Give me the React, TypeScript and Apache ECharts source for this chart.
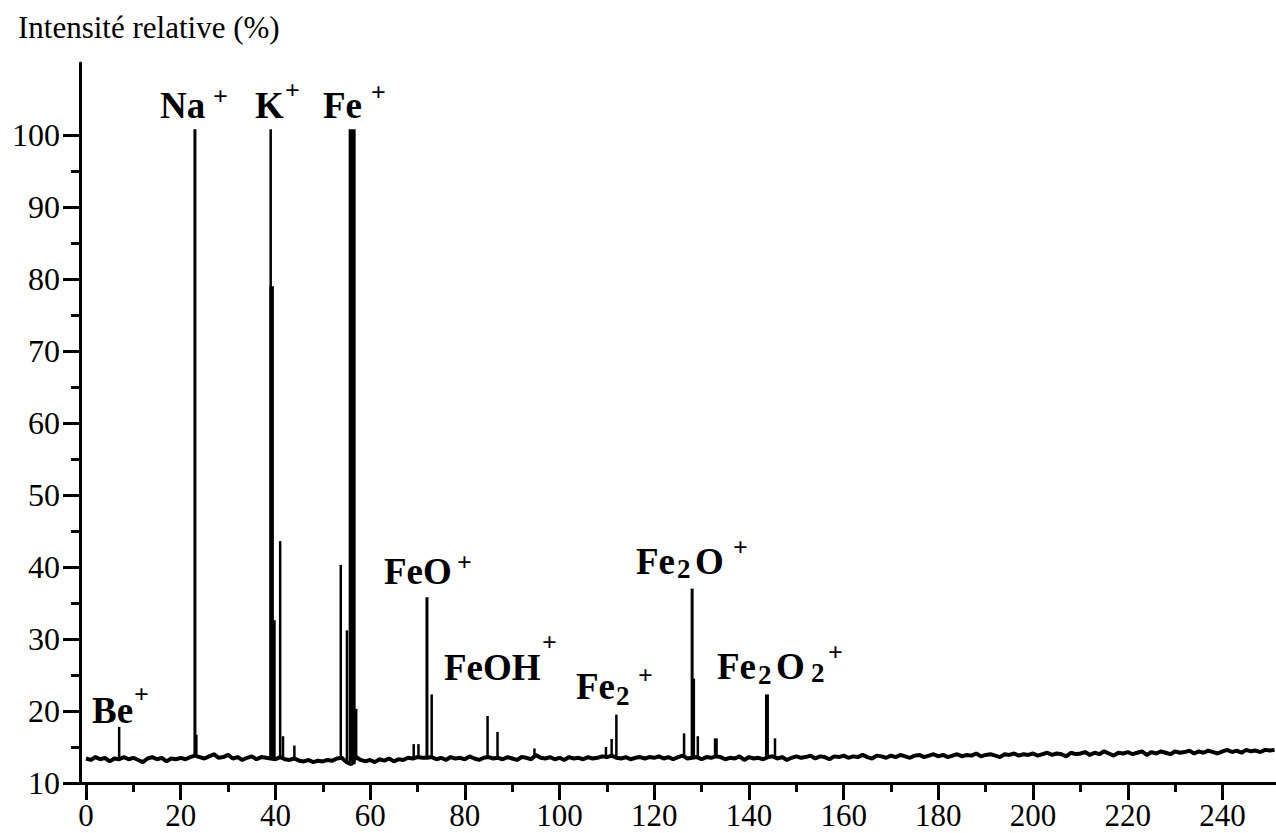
import React, { useEffect, useRef } from 'react';
import * as echarts from 'echarts';

// Baseline intensity (%) at each integer m/z from 0 to 251
const baselineValues = [
  13.4, 13.2, 13.6, 13.3, 13.5, 13.0, 13.4, 13.3, 13.6, 13.3,
  13.5, 13.2, 12.9, 13.4, 13.6, 13.3, 13.5, 13.0, 13.4, 13.3,
  13.5, 13.3, 13.6, 13.8, 13.6, 13.4, 13.7, 14.0, 13.5, 13.6,
  13.9, 13.4, 13.6, 13.2, 13.5, 13.7, 13.3, 13.6, 13.5, 13.4,
  13.3, 13.6, 13.3, 13.2, 13.4, 13.1, 13.0, 13.2, 12.9, 13.1,
  13.0, 13.2, 13.1, 13.4, 13.5, 12.9, 12.6, 13.6, 13.2, 13.0,
  13.2, 12.9, 13.3, 13.1, 13.4, 13.0, 13.3, 13.2, 13.5, 13.4,
  13.6, 13.5, 13.5, 13.6, 13.3, 13.5, 13.2, 13.6, 13.4, 13.5,
  13.3, 13.7, 13.4, 13.2, 13.5, 13.6, 13.4, 13.5, 13.3, 13.6,
  13.4, 13.2, 13.6, 13.5, 13.3, 13.9, 13.5, 13.4, 13.6, 13.3,
  13.5, 13.2, 13.6, 13.4, 13.5, 13.3, 13.6, 13.4, 13.5, 13.7,
  13.6, 13.8, 13.5, 13.4, 13.6, 13.3, 13.5, 13.6, 13.4, 13.6,
  13.5, 13.7, 13.4, 13.6, 13.3, 13.6, 13.8, 13.4, 13.5, 13.6,
  13.3, 13.6, 13.5, 13.7, 13.6, 13.3, 13.5, 13.4, 13.7, 13.2,
  13.6, 13.4, 13.5, 13.3, 13.6, 13.7, 13.4, 13.6, 13.2, 13.5,
  13.7, 13.5, 13.6, 13.8, 13.4, 13.7, 13.6, 13.3, 13.7, 13.6,
  13.8, 13.5, 13.7, 13.6, 13.9, 13.6, 13.4, 13.8, 13.7, 13.5,
  13.8, 13.6, 13.9, 13.7, 13.5, 13.8, 13.9, 13.6, 13.8, 14.0,
  13.7, 13.9, 13.6, 13.8, 14.0, 13.7, 13.9, 13.8, 14.1, 13.7,
  13.9, 14.0, 13.8, 13.6, 14.0, 13.9, 14.1, 13.8, 14.0, 13.9,
  14.1, 13.8, 14.0, 14.2, 13.9, 14.1, 14.0, 13.7, 14.2, 14.0,
  14.1, 14.3, 13.9, 14.2, 14.0, 14.4, 14.1, 13.8, 14.2, 14.1,
  14.3, 14.0, 14.2, 14.4, 13.9, 14.3, 14.1, 14.4, 14.2, 14.0,
  14.4, 14.2, 14.3, 14.5, 14.1, 14.4, 14.2, 14.5, 14.3, 14.1,
  14.4, 14.6, 14.3, 14.5, 14.2, 14.6, 14.4, 14.5, 14.3, 14.6,
  14.5, 14.6,
];

// Peaks: [m/z, intensity (%), stroke width]
const peaks = [
  [7, 17.8, 2.5],
  [23, 100.8, 3],
  [23.3, 16.7, 2.5],
  [39, 100.8, 2.5],
  [39.2, 79, 4.5],
  [39.8, 32.6, 2.5],
  [41, 43.6, 2.5],
  [41.6, 16.5, 2.5],
  [44, 15.2, 2.5],
  [53.8, 40.3, 2.5],
  [55.1, 31.2, 2.5],
  [56.2, 100.8, 7],
  [57, 20.3, 3],
  [69.2, 15.4, 2.5],
  [70.2, 15.4, 2.5],
  [72, 35.8, 3],
  [73, 22.3, 2.5],
  [84.8, 19.3, 2.5],
  [86.9, 17.1, 2.5],
  [94.7, 14.8, 2.5],
  [109.8, 15.0, 2.5],
  [111, 16.1, 2.5],
  [112, 19.5, 2.5],
  [126.3, 16.9, 2.5],
  [128, 37.0, 3],
  [128.2, 24.5, 4],
  [129.2, 16.5, 2.5],
  [133, 16.2, 4],
  [143.8, 22.3, 4],
  [145.5, 16.2, 2.5],
];

const xMajorTicks = [0, 20, 40, 60, 80, 100, 120, 140, 160, 180, 200, 220, 240];
const xMinorTicks = [10, 30, 50, 70, 90, 110, 130, 150, 170, 190, 210, 230];
const yMajorTicks = [10, 20, 30, 40, 50, 60, 70, 80, 90, 100];
const yMinorTicks = [15, 25, 35, 45, 55, 65, 75, 85, 95];
const yTitle = 'Intensité relative (%)';

// Peak label pieces: [text, kind ('m' main, 'sup', 'sub'), left x, centre y]
const labelPieces = [
  ['Be', 'm', 92, 710], ['+', 'sup', 134, 694],
  ['Na', 'm', 160, 105], ['+', 'sup', 213, 96],
  ['K', 'm', 255, 105], ['+', 'sup', 285, 90],
  ['Fe', 'm', 323, 105], ['+', 'sup', 371, 92],
  ['FeO', 'm', 384, 571], ['+', 'sup', 457, 562],
  ['FeOH', 'm', 444, 667], ['+', 'sup', 542, 642],
  ['Fe', 'm', 576, 686], ['2', 'sub', 616, 696], ['+', 'sup', 638, 675],
  ['Fe', 'm', 636, 561], ['2', 'sub', 677, 569], ['O', 'm', 695, 561], ['+', 'sup', 733, 547],
  ['Fe', 'm', 717, 666], ['2', 'sub', 758, 675], ['O', 'm', 776, 666], ['2', 'sub', 811, 673], ['+', 'sup', 828, 652],
];

const SERIF = "'Liberation Serif', 'Times New Roman', serif";

export default function App() {
  const ref = useRef<HTMLDivElement>(null);

  useEffect(() => {
    if (!ref.current) return;
    const chart = echarts.init(ref.current, null, { renderer: 'svg' });
    const baselineData = baselineValues.map((v, i) => [i, v]);
    const xMin = -1.27;
    const xMax = 251.3;
    const tickStyle = { color: '#000', width: 3 };

    const graphic: any[] = [
      {
        type: 'text',
        x: 18,
        y: 27,
        style: {
          text: yTitle,
          fill: '#000',
          fontSize: 31,
          fontFamily: SERIF,
          align: 'left',
          verticalAlign: 'middle',
          textAlign: 'left',
          textVerticalAlign: 'middle',
        },
      },
    ];
    labelPieces.forEach(([t, kind, x, y]) => {
      const size = kind === 'm' ? 37 : kind === 'sup' ? 26 : 27;
      graphic.push({
        type: 'text',
        x,
        y,
        style: {
          text: t,
          fill: '#000',
          fontSize: size,
          fontWeight: 'bold',
          fontFamily: SERIF,
          align: 'left',
          verticalAlign: 'middle',
          textAlign: 'left',
          textVerticalAlign: 'middle',
        },
      });
    });

    const option: any = {
      animation: false,
      backgroundColor: '#fff',
      grid: { left: 80, right: 0, top: 63, bottom: 50, containLabel: false },
      xAxis: [
        {
          type: 'value',
          min: xMin,
          max: xMax,
          position: 'bottom',
          axisLine: { show: true, onZero: false, lineStyle: tickStyle },
          axisTick: { show: true, customValues: xMajorTicks, length: 17, lineStyle: tickStyle },
          axisLabel: {
            customValues: xMajorTicks,
            fontSize: 31,
            lineHeight: 31,
            fontFamily: SERIF,
            color: '#000',
            margin: 17,
          },
          splitLine: { show: false },
        },
        {
          type: 'value',
          min: xMin,
          max: xMax,
          position: 'bottom',
          axisLine: { show: false, onZero: false },
          axisTick: { show: true, customValues: xMinorTicks, length: 9, lineStyle: tickStyle },
          axisLabel: { show: false },
          splitLine: { show: false },
        },
      ],
      yAxis: [
        {
          type: 'value',
          min: 10,
          max: 110,
          position: 'left',
          axisLine: { show: true, onZero: false, lineStyle: tickStyle },
          axisTick: { show: true, customValues: yMajorTicks, length: 17, lineStyle: tickStyle },
          axisLabel: {
            customValues: yMajorTicks,
            fontSize: 32,
            fontFamily: SERIF,
            color: '#000',
            margin: 20,
          },
          splitLine: { show: false },
        },
        {
          type: 'value',
          min: 10,
          max: 110,
          position: 'left',
          axisLine: { show: false, onZero: false },
          axisTick: { show: true, customValues: yMinorTicks, length: 9, lineStyle: tickStyle },
          axisLabel: { show: false },
          splitLine: { show: false },
        },
      ],
      series: [
        {
          type: 'line',
          data: baselineData,
          xAxisIndex: 0,
          yAxisIndex: 0,
          symbol: 'none',
          lineStyle: { color: '#000', width: 4 },
          silent: true,
        },
        {
          type: 'custom',
          data: peaks,
          xAxisIndex: 0,
          yAxisIndex: 0,
          encode: { x: 0, y: 1 },
          silent: true,
          renderItem: (_params: any, api: any) => {
            const m = api.value(0);
            const h = api.value(1);
            const w = api.value(2);
            const base = baselineValues[Math.round(m)];
            const p0 = api.coord([m, base]);
            const p1 = api.coord([m, h]);
            return {
              type: 'line',
              shape: { x1: p0[0], y1: p0[1], x2: p1[0], y2: p1[1] },
              style: { stroke: '#000', lineWidth: w },
            };
          },
        },
      ],
      graphic,
    };

    chart.setOption(option);
    return () => {
      chart.dispose();
    };
  }, []);

  return (
    <div
      ref={ref}
      style={{ position: 'absolute', left: 0, top: 0, width: 1276, height: 833, background: '#fff' }}
    />
  );
}
